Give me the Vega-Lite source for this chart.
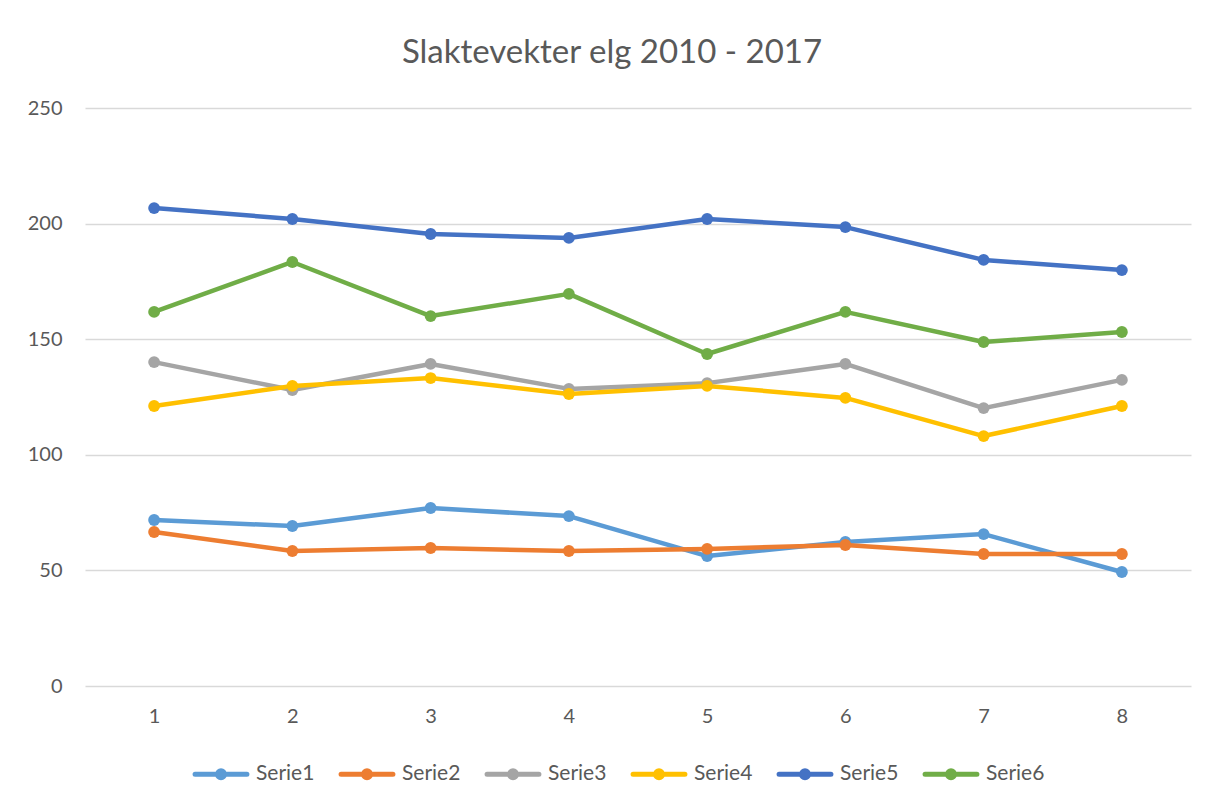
{
  "$schema": "https://vega.github.io/schema/vega-lite/v6.json",
  "autosize": {"type": "none"},
  "width": 1106,
  "height": 578,
  "padding": {"left": 85, "top": 108, "right": 17, "bottom": 116},
  "background": "white",
  "title": {
    "text": "Slaktevekter elg 2010 - 2017",
    "font": "Lato",
    "fontSize": 33,
    "fontWeight": "normal",
    "color": "#595959",
    "anchor": "middle",
    "frame": "group",
    "dx": -26,
    "baseline": "bottom",
    "offset": -5
  },
  "data": {
    "values": [
      {"x": 1, "s": "Serie1", "v": 71.8}, {"x": 2, "s": "Serie1", "v": 69.2}, {"x": 3, "s": "Serie1", "v": 77.0}, {"x": 4, "s": "Serie1", "v": 73.5},
      {"x": 5, "s": "Serie1", "v": 56.2}, {"x": 6, "s": "Serie1", "v": 62.3}, {"x": 7, "s": "Serie1", "v": 65.7}, {"x": 8, "s": "Serie1", "v": 49.3},
      {"x": 1, "s": "Serie2", "v": 66.6}, {"x": 2, "s": "Serie2", "v": 58.4}, {"x": 3, "s": "Serie2", "v": 59.7}, {"x": 4, "s": "Serie2", "v": 58.4},
      {"x": 5, "s": "Serie2", "v": 59.3}, {"x": 6, "s": "Serie2", "v": 61.0}, {"x": 7, "s": "Serie2", "v": 57.1}, {"x": 8, "s": "Serie2", "v": 57.1},
      {"x": 1, "s": "Serie3", "v": 140.1}, {"x": 2, "s": "Serie3", "v": 128.0}, {"x": 3, "s": "Serie3", "v": 139.3}, {"x": 4, "s": "Serie3", "v": 128.5},
      {"x": 5, "s": "Serie3", "v": 131.0}, {"x": 6, "s": "Serie3", "v": 139.3}, {"x": 7, "s": "Serie3", "v": 120.2}, {"x": 8, "s": "Serie3", "v": 132.4},
      {"x": 1, "s": "Serie4", "v": 121.1}, {"x": 2, "s": "Serie4", "v": 129.8}, {"x": 3, "s": "Serie4", "v": 133.2}, {"x": 4, "s": "Serie4", "v": 126.3},
      {"x": 5, "s": "Serie4", "v": 129.8}, {"x": 6, "s": "Serie4", "v": 124.6}, {"x": 7, "s": "Serie4", "v": 108.1}, {"x": 8, "s": "Serie4", "v": 121.1},
      {"x": 1, "s": "Serie5", "v": 206.7}, {"x": 2, "s": "Serie5", "v": 202.0}, {"x": 3, "s": "Serie5", "v": 195.5}, {"x": 4, "s": "Serie5", "v": 193.8},
      {"x": 5, "s": "Serie5", "v": 202.0}, {"x": 6, "s": "Serie5", "v": 198.5}, {"x": 7, "s": "Serie5", "v": 184.3}, {"x": 8, "s": "Serie5", "v": 179.9},
      {"x": 1, "s": "Serie6", "v": 161.8}, {"x": 2, "s": "Serie6", "v": 183.4}, {"x": 3, "s": "Serie6", "v": 160.0}, {"x": 4, "s": "Serie6", "v": 169.6},
      {"x": 5, "s": "Serie6", "v": 143.6}, {"x": 6, "s": "Serie6", "v": 161.8}, {"x": 7, "s": "Serie6", "v": 148.8}, {"x": 8, "s": "Serie6", "v": 153.1}
    ]
  },
  "mark": {
    "type": "line",
    "strokeWidth": 4.5,
    "strokeCap": "round",
    "strokeJoin": "round",
    "point": {"filled": true, "size": 140, "opacity": 1}
  },
  "encoding": {
    "x": {
      "field": "x",
      "type": "ordinal",
      "scale": {"type": "point", "padding": 0.5},
      "axis": {
        "title": null,
        "labelAngle": 0,
        "ticks": false,
        "domain": false,
        "grid": false,
        "labelPadding": 20,
        "labelFont": "Lato",
        "labelFontSize": 20,
        "labelColor": "#595959"
      }
    },
    "y": {
      "field": "v",
      "type": "quantitative",
      "scale": {"domain": [0, 250], "nice": false, "zero": true},
      "axis": {
        "title": null,
        "values": [0, 50, 100, 150, 200, 250],
        "ticks": false,
        "domain": false,
        "grid": true,
        "gridColor": "#D9D9D9",
        "gridWidth": 1.5,
        "labelPadding": 23,
        "labelFont": "Lato",
        "labelFontSize": 20,
        "labelColor": "#595959"
      }
    },
    "color": {
      "field": "s",
      "type": "nominal",
      "scale": {
        "domain": ["Serie1", "Serie2", "Serie3", "Serie4", "Serie5", "Serie6"],
        "range": ["#5B9BD5", "#ED7D31", "#A5A5A5", "#FFC000", "#4472C4", "#70AD47"]
      },
      "legend": {
        "title": null,
        "orient": "none",
        "direction": "horizontal",
        "legendX": 105,
        "legendY": 635,
        "padding": 0,
        "columnPadding": 16,
        "labelOffset": 4,
        "labelFont": "Lato",
        "labelFontSize": 21,
        "labelColor": "#595959",
        "symbolType": "M-0.91,0L0.91,0M-0.12,0A0.12,0.12,0,1,1,0.12,0A0.12,0.12,0,1,1,-0.12,0Z",
        "symbolSize": 3249,
        "symbolStrokeWidth": 5,
        "encode": {
          "symbols": {
            "update": {
              "fill": {"scale": "color", "field": "value"},
              "stroke": {"scale": "color", "field": "value"},
              "strokeCap": {"value": "round"},
              "opacity": {"value": 1}
            }
          }
        }
      }
    }
  },
  "config": {
    "view": {"stroke": null}
  }
}
